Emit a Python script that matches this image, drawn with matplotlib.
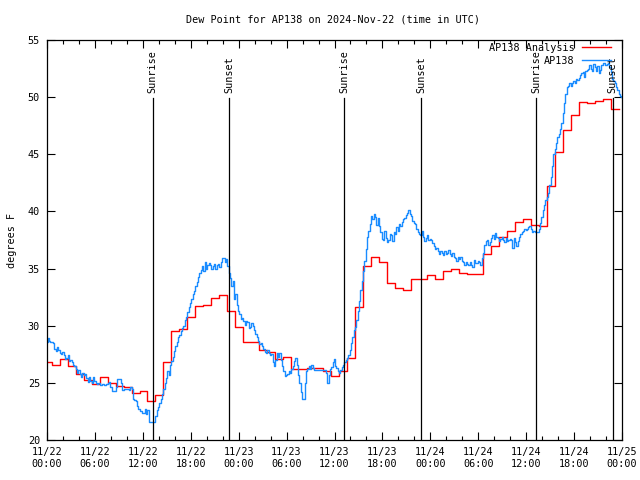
import matplotlib
matplotlib.use("Agg")
import matplotlib.pyplot as plt
import matplotlib.dates as mdates
import pandas as pd

# AP138 observations, every 10 minutes (one row = one hour)
blue_start = "2024-11-21 23:45"
blue_vals = [
    28.8, 28.6, 28.9, 28.7, 28.55, 28.6,
    28.5, 28.0, 27.8, 28.1, 27.9, 27.6,
    27.5, 27.7, 27.4, 27.1, 27.2, 27.4,
    26.9, 27.0, 26.8, 26.6, 26.5, 26.2,
    25.9, 26.1, 25.8, 25.5, 25.85, 25.7,
    25.8, 25.4, 25.1, 25.5, 25.2, 25.0,
    25.5, 25.2, 25.0, 24.9, 25.0, 24.8,
    24.8, 24.9, 24.8, 24.8, 24.9, 25.0,
    25.1, 24.6, 24.3, 24.3, 24.3, 24.6,
    25.3, 25.3, 25.3, 25.0, 24.4, 24.5,
    24.5, 24.5, 24.5, 24.4, 24.6, 24.5,
    23.55, 23.5, 23.4, 23.0, 22.7, 22.5,
    22.5, 22.4, 22.4, 22.7, 22.3, 22.6,
    21.6, 21.6, 21.6, 21.6, 21.6, 22.1,
    22.6, 22.9, 23.2, 23.6, 24.0, 24.5,
    25.0, 25.4, 26.0, 25.7, 26.6, 26.9,
    27.3, 27.8, 28.2, 28.6, 29.0, 29.2,
    29.5, 29.8, 30.0, 30.5, 30.8, 31.2,
    31.6, 32.0, 32.3, 32.8, 33.0, 33.5,
    33.8, 34.3, 34.6, 34.9, 35.2, 34.8,
    35.6, 35.0, 35.3, 35.5, 35.3, 35.0,
    35.2, 35.4, 35.0, 35.3, 35.4, 35.1,
    35.6, 35.9, 35.9, 35.6, 35.8, 35.2,
    34.6, 34.2, 33.5, 33.9, 32.3, 32.8,
    31.8, 31.3, 31.0, 30.6, 30.7, 30.4,
    30.05, 30.4, 30.3, 29.8, 29.9, 30.2,
    30.0, 29.6, 29.3, 29.0, 28.7, 28.4,
    28.5, 28.2, 28.0, 27.7, 27.6, 27.9,
    27.6, 27.4, 27.5, 26.8, 26.5, 27.0,
    27.6, 27.3, 27.6, 27.0, 26.5, 26.0,
    25.6, 25.7, 25.8, 26.0, 25.85, 26.2,
    26.5, 26.9, 27.2, 26.6, 25.7, 25.0,
    24.2, 23.6, 23.6, 25.0, 26.0, 26.2,
    26.5, 26.2, 26.6, 26.3, 26.1, 26.1,
    26.1, 26.1, 26.1, 26.1, 26.1, 26.1,
    26.1, 25.9, 25.0, 25.7, 26.2, 26.4,
    26.8, 27.1, 26.5, 26.3, 26.0, 25.9,
    26.1, 26.4, 26.6, 26.8, 27.0, 27.2,
    27.4, 27.9, 28.5, 29.0, 29.6, 29.9,
    30.5, 31.3, 32.2, 33.1, 33.9, 34.8,
    35.7, 36.7, 37.8, 38.3, 38.9, 39.6,
    39.3, 39.8, 39.5, 38.8, 39.4, 38.7,
    38.2, 37.6, 37.5, 38.3, 37.7, 37.3,
    37.5, 38.0, 37.9, 37.4, 38.2, 38.0,
    38.6, 38.3, 38.9, 38.7, 39.1, 39.3,
    39.4, 39.7, 39.9, 40.1, 39.8, 39.6,
    39.2, 39.0, 38.9, 38.5, 38.2, 38.0,
    37.9, 38.3, 37.8, 37.4, 37.7, 37.9,
    37.5, 37.6, 37.5, 37.2, 37.0, 36.7,
    36.8, 36.5, 36.3, 36.5, 36.4, 36.2,
    36.5, 36.3, 36.35, 36.6, 36.3, 36.1,
    36.4, 36.0, 35.9, 35.7, 36.0, 35.8,
    36.0, 35.7, 35.6, 35.3, 35.6, 35.4,
    35.3, 35.6, 35.3, 35.1, 35.75, 35.5,
    35.45, 35.7, 35.6, 35.3, 35.9, 36.4,
    37.05, 37.4, 37.5, 37.1, 37.3, 37.7,
    37.9, 37.6, 38.1, 37.8, 37.7, 37.4,
    37.6, 37.8, 37.5, 37.3, 37.65, 37.4,
    37.5, 37.6, 37.5, 36.8, 37.65, 37.3,
    37.0, 37.4, 37.8, 38.0, 38.2, 38.3,
    38.5, 38.4, 38.5, 38.6, 38.7, 38.5,
    38.2, 38.3, 38.2, 38.2, 38.2, 38.5,
    38.95, 39.5, 40.1, 40.6, 41.0, 41.3,
    41.6, 42.3, 43.0, 44.0, 45.0, 45.5,
    46.0, 46.5, 46.8, 47.2, 47.7, 48.6,
    49.5, 50.3, 50.9, 51.0, 51.2, 51.0,
    51.2, 51.4, 51.2, 51.6, 51.5, 51.7,
    51.9, 52.1, 52.2, 51.8, 52.3, 52.4,
    52.5, 52.8, 52.5, 52.3, 52.9, 52.6,
    52.3, 52.7, 52.1, 52.4, 52.8, 53.0,
    53.0, 52.8, 52.9, 53.0, 52.6, 52.2,
    51.6, 51.4, 51.2, 50.9, 50.6, 50.3,
    50.1, 50.0,
]

# AP138 analysis, hourly
red_start = "2024-11-21 23:35"
red_vals = [
    26.8, 26.6, 27.1, 26.5, 25.8, 25.25, 24.9, 25.5, 25.0, 24.75, 24.6, 24.1,
    24.3, 23.4, 23.9, 26.85, 29.5, 29.7, 30.8, 31.7, 31.8, 32.4, 32.65, 31.3,
    29.9, 28.6, 28.6, 27.9, 27.7, 27.1, 27.3, 26.2, 26.2, 26.3, 26.3, 26.0,
    25.6, 26.0, 27.15, 31.6, 35.2, 36.0, 35.6, 33.7, 33.3, 33.1, 34.05, 34.05,
    34.4, 34.1, 34.8, 35.0, 34.65, 34.5, 34.5, 36.25, 37.0, 37.75, 38.25, 39.1,
    39.3, 38.8, 38.7, 42.2, 45.2, 47.1, 48.4, 49.6, 49.5, 49.65, 49.8, 49.0,
    49.0,
]

sun_times = ["2024-11-22 13:14", "2024-11-22 22:51", "2024-11-23 13:15",
             "2024-11-23 22:49", "2024-11-24 13:17", "2024-11-24 22:49"]
sun_labels = ["Sunrise", "Sunset", "Sunrise", "Sunset", "Sunrise", "Sunset"]

FONT = "DejaVu Sans Mono"
FS = 7.3


def main():
    plt.rcParams["font.family"] = FONT
    plt.rcParams["font.size"] = FS

    blue_t = pd.date_range(blue_start, periods=len(blue_vals), freq="10min")
    red_t = pd.date_range(red_start, periods=len(red_vals), freq="1h")

    fig = plt.figure(figsize=(6.4, 4.8), dpi=100)
    ax = fig.add_axes([47 / 640, 40 / 480, 575 / 640, 400 / 480])

    ax.step(red_t, red_vals, where="post", color="#ff0000", lw=1.0,
            label="AP138 Analysis")
    ax.step(blue_t, blue_vals, where="post", color="#1a8cff", lw=1.0,
            label="AP138")

    for t, lab in zip(sun_times, sun_labels):
        t = pd.Timestamp(t)
        ax.plot([t, t], [20, 49.9], color="black", lw=0.9)
        ax.text(t, 50.4, lab, rotation=90, ha="center", va="bottom",
                fontsize=FS)

    ax.set_xlim(pd.Timestamp("2024-11-22 00:00"),
                pd.Timestamp("2024-11-25 00:00"))
    ax.set_ylim(20, 55)
    ax.set_yticks(range(20, 56, 5))
    ax.xaxis.set_major_locator(mdates.HourLocator(byhour=range(0, 24, 6)))
    ax.xaxis.set_minor_locator(mdates.HourLocator(interval=2))
    ax.xaxis.set_major_formatter(mdates.DateFormatter("%m/%d\n%H:%M"))
    ax.tick_params(which="both", direction="in", top=True, right=True,
                   width=0.8, labelsize=FS)
    ax.tick_params(which="major", length=6, pad=5)
    ax.tick_params(which="minor", length=3)
    for s in ax.spines.values():
        s.set_linewidth(0.9)

    ax.set_ylabel("degrees F", fontsize=FS, labelpad=8)
    fig.text(333 / 640, 1 - 19 / 480,
             "Dew Point for AP138 on 2024-Nov-22 (time in UTC)",
             ha="center", va="center", fontsize=FS)

    ax.legend(loc="upper right", bbox_to_anchor=(611 / 640, 1 - 43 / 480),
              bbox_transform=fig.transFigure, markerfirst=False,
              frameon=False, fontsize=FS, handlelength=2.9,
              handletextpad=0.7, labelspacing=0.25, borderpad=0,
              borderaxespad=0)

    fig.savefig("out.png", dpi=100)


if __name__ == "__main__":
    main()
